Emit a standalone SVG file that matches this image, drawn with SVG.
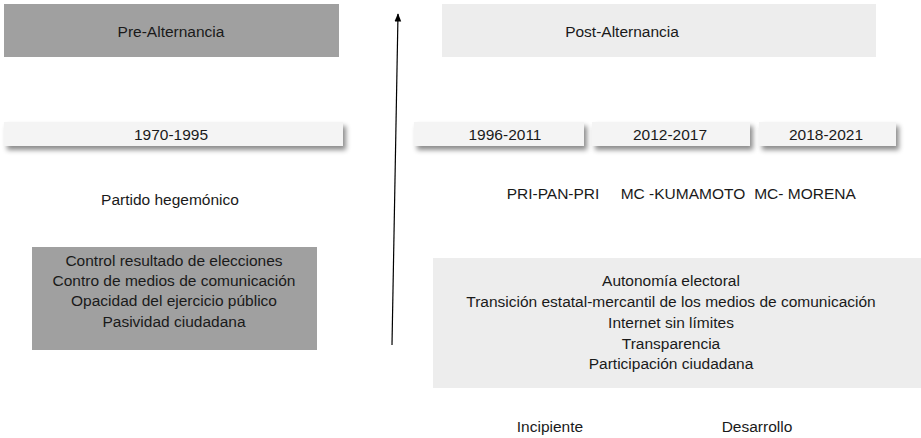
<svg xmlns="http://www.w3.org/2000/svg" width="921" height="438" viewBox="0 0 921 438">
<defs>
<style>
text{font-family:"Liberation Sans","Noto Sans",sans-serif;font-size:15.5px;fill:#1a1a1a;text-anchor:middle}
.dark{fill:#a0a0a0}
.light{fill:#ededed}
.bar{fill:#f4f4f4;filter:url(#sh)}
</style>
<filter id="sh" x="-5%" y="-50%" width="115%" height="250%">
<feDropShadow dx="3" dy="4" stdDeviation="2.5" flood-color="#000" flood-opacity="0.45"/>
</filter>
<marker id="ah" viewBox="0 0 10 10" refX="9" refY="5" markerWidth="7" markerHeight="7" orient="auto">
<path d="M0,1 L10,5 L0,9 z" fill="#000"/>
</marker>
</defs>
<g id="pre-alternancia"><rect class="dark" x="4" y="4" width="335" height="53"/><text x="171" y="37">Pre-Alternancia</text></g>
<g id="post-alternancia"><rect class="light" x="442" y="4" width="434" height="53"/><text x="622" y="37">Post-Alternancia</text></g>
<g id="p1970"><rect class="bar" x="4" y="122" width="339" height="24"/><text x="171" y="140">1970-1995</text></g>
<g id="p1996"><rect class="bar" x="414" y="122" width="170" height="24"/><text x="505" y="140">1996-2011</text></g>
<g id="p2012"><rect class="bar" x="592" y="122" width="158" height="24"/><text x="670" y="140">2012-2017</text></g>
<g id="p2018"><rect class="bar" x="759" y="122" width="137" height="24"/><text x="826" y="140">2018-2021</text></g>
<g id="hegemonico"><text x="170" y="205">Partido hegemónico</text></g>
<g id="pre-rasgos"><rect class="dark" x="32" y="247" width="285" height="103"/>
<text x="174" y="266">Control resultado de elecciones</text>
<text x="174" y="286">Contro de medios de comunicación</text>
<text x="174" y="306">Opacidad del ejercicio público</text>
<text x="174" y="327">Pasividad ciudadana</text></g>
<g id="pri"><text x="553" y="199">PRI-PAN-PRI</text></g>
<g id="kumamoto"><text x="683" y="199">MC -KUMAMOTO</text></g>
<g id="morena"><text x="805" y="199">MC- MORENA</text></g>
<g id="post-rasgos"><rect class="light" x="433" y="258" width="490" height="130"/>
<text x="671" y="286">Autonomía electoral</text>
<text x="671" y="307">Transición estatal-mercantil de los medios de comunicación</text>
<text x="671" y="328">Internet sin límites</text>
<text x="671" y="349">Transparencia</text>
<text x="671" y="369">Participación ciudadana</text></g>
<g id="incipiente"><text x="550" y="432">Incipiente</text></g>
<g id="desarrollo"><text x="757" y="432">Desarrollo</text></g>
<g id="connectors"><line x1="392" y1="345" x2="398" y2="14" stroke="#000" stroke-width="1.2" marker-end="url(#ah)"/></g>
</svg>
